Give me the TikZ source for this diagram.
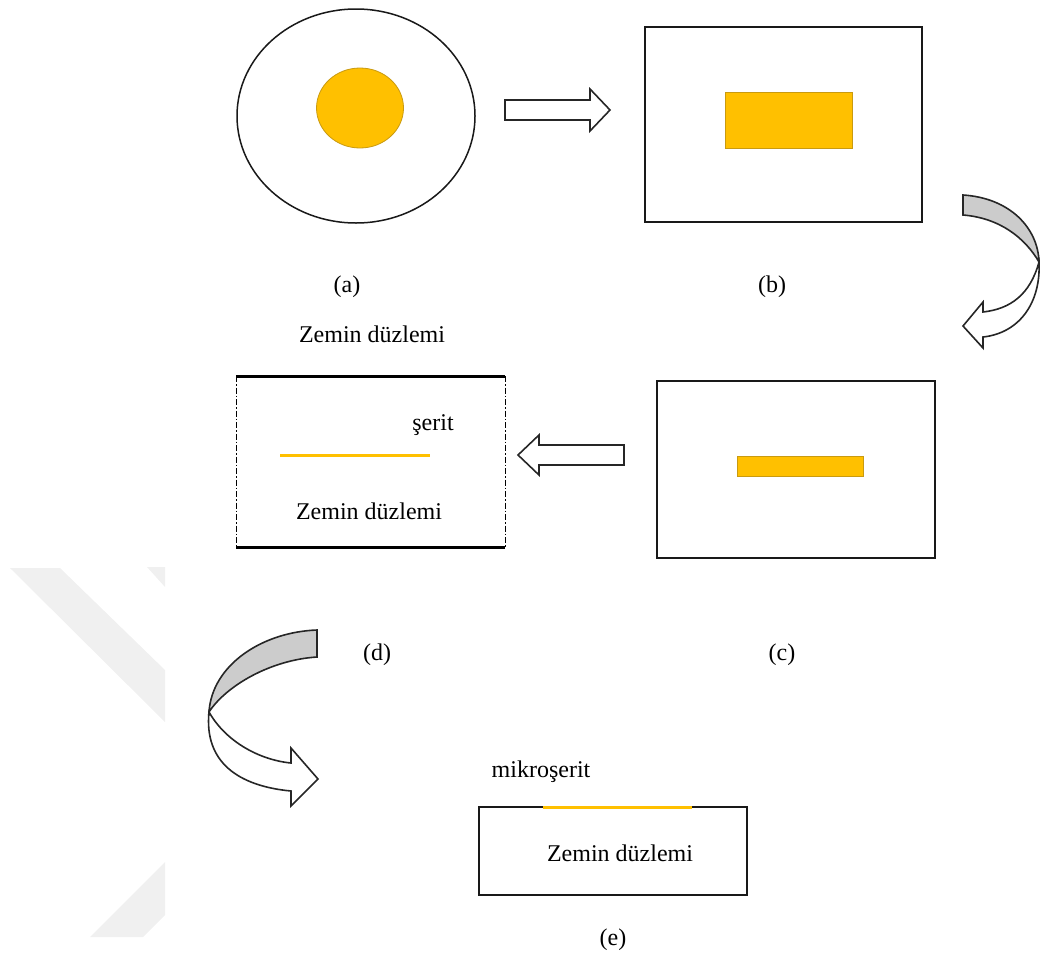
\documentclass[tikz,border=0pt]{standalone}
\usepackage{fontspec}
\setmainfont{Liberation Serif}
\usetikzlibrary{shapes.geometric}
\definecolor{gold}{HTML}{FFC000}
\definecolor{golddark}{HTML}{C99A10}
\begin{document}
\begin{tikzpicture}[x=1pt,y=-1pt,
  lbl/.style={font=\fontsize{24}{28}\selectfont, inner sep=0pt},
  frame/.style={draw=black!90, line width=1.5pt, inner sep=0pt},
  goldshape/.style={fill=gold, draw=golddark, line width=0.8pt, inner sep=0pt},
  goldstrip/.style={draw=gold, line width=3pt},
  groundline/.style={draw=black, line width=3pt},
  sideline/.style={draw=black, line width=1pt, dash pattern=on 6pt off 2pt on 1.5pt off 2pt},
  blockarrow/.style={draw=black!85, line width=1.6pt, fill=white, line join=miter},
  backband/.style={draw=black!85, line width=1.6pt, fill=black!20},
  wm/.style={fill=black!6, draw=none}]
\useasboundingbox (0,0) rectangle (1040,972);

% faint watermark
\fill[wm] (10,568) -- (60,568) -- (165,670) -- (165,722) -- cycle;
\fill[wm] (147,567) -- (165,567) -- (165,587) -- cycle;
\fill[wm] (90,937) -- (165,862) -- (165,915) -- (143,937) -- cycle;

% (a) circular patch
\node[frame, ellipse, minimum width=238pt, minimum height=214pt] (aouter) at (356,116) {};
\node[goldshape, ellipse, minimum width=87pt, minimum height=80pt] (acore) at (360,108) {};
\node[lbl] (alabel) at (347,287) {(a)};

% arrow a -> b
\draw[blockarrow] (505,100) -- (590,100) -- (590,89) -- (610,110) -- (590,131) -- (590,120) -- (505,120) -- cycle;

% (b) rectangular patch
\node[frame, rectangle, minimum width=277pt, minimum height=195pt] (bsub) at (783.5,124.5) {};
\node[goldshape, rectangle, minimum width=127pt, minimum height=56pt] (bcore) at (788.5,120) {};
\node[lbl] (blabel) at (772,287) {(b)};

% curved arrow b -> c
\draw[backband] (963,195) .. controls (1010,198) and (1038,228) .. (1039,262)
  .. controls (1025,238) and (1000,218) .. (963,215) -- cycle;
\draw[blockarrow] (1039,262) .. controls (1030,295) and (1010,309) .. (983,312)
  -- (983,302) -- (963,326) -- (983,348) -- (983,337)
  .. controls (1020,333) and (1041,302) .. (1039,262) -- cycle;

% (c) narrowed strip
\node[frame, rectangle, minimum width=278pt, minimum height=177pt] (csub) at (796,469.5) {};
\node[goldshape, rectangle, minimum width=126pt, minimum height=20pt] (ccore) at (800,466) {};
\node[lbl] (clabel) at (782,655) {(c)};

% arrow c -> d
\draw[blockarrow] (624,445) -- (539,445) -- (539,435) -- (518,455) -- (539,475) -- (539,465) -- (624,465) -- cycle;

% (d) side view with two ground planes
\node[lbl] (dtop) at (372,334) {Zemin düzlemi};
\coordinate (dTL) at (236,376);
\coordinate (dTR) at (505,376);
\coordinate (dBL) at (236,547);
\coordinate (dBR) at (505,547);
\draw[sideline] (dTL) -- (dBL);
\draw[sideline] (dTR) -- (dBR);
\draw[groundline] (dTL) -- (dTR);
\draw[groundline] (dBL) -- (dBR);
\coordinate (dS1) at (280,455);
\coordinate (dS2) at (430,455);
\draw[goldstrip] (dS1) -- (dS2);
\node[lbl] (dserit) at (433,425) {şerit};
\node[lbl] (dbottom) at (369,511) {Zemin düzlemi};
\node[lbl] (dlabel) at (377,655) {(d)};

% curved arrow d -> e
\draw[backband] (317,630) .. controls (262,632) and (212,665) .. (209,712)
  .. controls (226,686) and (270,660) .. (317,657) -- cycle;
\draw[blockarrow] (209,712) .. controls (226,742) and (260,760) .. (291,763)
  -- (291,748) -- (318,779) -- (291,806) -- (291,791)
  .. controls (238,786) and (204,762) .. (209,712) -- cycle;

% (e) microstrip
\node[lbl] (emikro) at (541,772) {mikroşerit};
\node[frame, rectangle, minimum width=268pt, minimum height=88pt] (esub) at (613,851) {};
\node[lbl] (eground) at (620,853) {Zemin düzlemi};
\coordinate (eS1) at (543,807);
\coordinate (eS2) at (692,807);
\draw[goldstrip] (eS1) -- (eS2);
\node[lbl] (elabel) at (613,940) {(e)};
\end{tikzpicture}
\end{document}
